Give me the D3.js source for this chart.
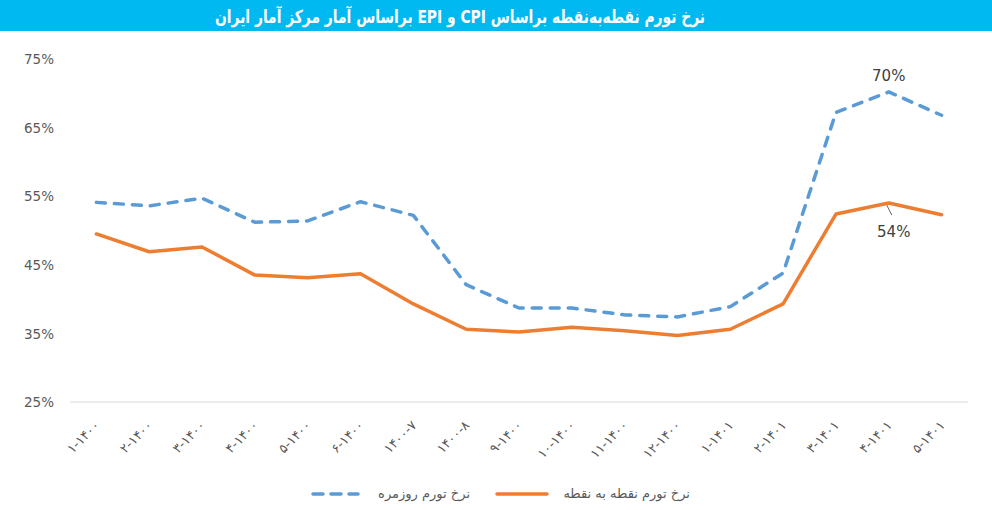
<!DOCTYPE html>
<html>
<head>
<meta charset="utf-8">
<script src="https://cdn.jsdelivr.net/npm/d3@7"></script>
<style>
  html, body { margin: 0; padding: 0; background: #ffffff; }
  svg { display: block; }
</style>
</head>
<body>
<svg id="chart" width="992" height="510"></svg>
<script>
const titleText = "نرخ تورم نقطه‌به‌نقطه براساس CPI و EPI براساس آمار مرکز آمار ایران";
const categories = ["۱-۱۴۰۰","۲-۱۴۰۰","۳-۱۴۰۰","۴-۱۴۰۰","۵-۱۴۰۰","۶-۱۴۰۰","۱۴۰۰-۷","۱۴۰۰-۸","۹-۱۴۰۰","۱۰-۱۴۰۰","۱۱-۱۴۰۰","۱۲-۱۴۰۰","۱-۱۴۰۱","۲-۱۴۰۱","۳-۱۴۰۱","۴-۱۴۰۱","۵-۱۴۰۱"];
const dailyName = "نرخ تورم روزمره";
const dailyValues = [54.1, 53.6, 54.7, 51.2, 51.4, 54.2, 52.2, 42.1, 38.7, 38.7, 37.7, 37.4, 38.9, 43.8, 67.2, 70.2, 66.8];
const pointName = "نرخ تورم نقطه به نقطه";
const pointValues = [49.5, 46.9, 47.6, 43.5, 43.1, 43.7, 39.3, 35.6, 35.2, 35.9, 35.4, 34.7, 35.6, 39.3, 52.4, 54.0, 52.3];
const yTicks = [25, 35, 45, 55, 65, 75];
const annotations = [
  { series: "daily", index: 15, label: "70%" },
  { series: "point", index: 15, label: "54%" }
];

const svg = d3.select("#chart");
const W = 992, H = 510;

// title bar
svg.append("rect").attr("x", 0).attr("y", 0).attr("width", W).attr("height", 31).attr("fill", "#00B9F1");
svg.append("text")
  .attr("x", 460).attr("y", 23)
  .attr("text-anchor", "middle")
  .attr("direction", "rtl")
  .attr("fill", "#ffffff")
  .attr("font-family", "DejaVu Sans, sans-serif")
  .attr("font-weight", "bold")
  .attr("font-size", 18)
  .attr("textLength", 490)
  .attr("lengthAdjust", "spacingAndGlyphs")
  .text(titleText);

const x = d3.scaleBand().domain(d3.range(categories.length)).range([70, 968]).padding(0);
const cx = i => x(i) + x.bandwidth() / 2;
const y = d3.scaleLinear().domain([25, 75]).range([402, 59]);

// y axis labels
const yAxis = d3.axisLeft(y).tickValues(yTicks).tickFormat(d => d + "%").tickSize(0).tickPadding(0);
const yg = svg.append("g").attr("transform", "translate(54,0)").call(yAxis);
yg.select(".domain").remove();
yg.selectAll("text")
  .attr("fill", "#595959")
  .attr("font-family", "DejaVu Sans, sans-serif")
  .attr("font-size", 13.5)
  .attr("dy", "0.35em");

// baseline
svg.append("line")
  .attr("x1", 70).attr("x2", 968)
  .attr("y1", y(25)).attr("y2", y(25))
  .attr("stroke", "#d9d9d9").attr("stroke-width", 1.2);

// x labels
const xg = svg.append("g");
xg.selectAll("text").data(categories).enter().append("text")
  .attr("transform", (d, i) => `translate(${cx(i) + 4},${y(25) + 24}) rotate(-45)`)
  .attr("text-anchor", "end")
  .attr("fill", "#595959")
  .attr("font-family", "DejaVu Sans, sans-serif")
  .attr("font-size", 13)
  .attr("letter-spacing", 2.5)
  .text(d => d);

const line = d3.line().x((d, i) => cx(i)).y(d => y(d));

svg.append("path")
  .datum(pointValues)
  .attr("d", line)
  .attr("fill", "none")
  .attr("stroke", "#ED7D31")
  .attr("stroke-width", 3.5)
  .attr("stroke-linejoin", "round")
  .attr("stroke-linecap", "round");

svg.append("path")
  .datum(dailyValues)
  .attr("d", line)
  .attr("fill", "none")
  .attr("stroke", "#5B9BD5")
  .attr("stroke-width", 3.5)
  .attr("stroke-dasharray", "9,9")
  .attr("stroke-linejoin", "round")
  .attr("stroke-linecap", "round");

// annotations
const a1 = annotations[0], a2 = annotations[1];
svg.append("text")
  .attr("x", cx(a1.index)).attr("y", y(dailyValues[a1.index]) - 11)
  .attr("text-anchor", "middle")
  .attr("fill", "#404040")
  .attr("font-family", "DejaVu Sans, sans-serif")
  .attr("font-size", 15)
  .text(a1.label);
svg.append("line")
  .attr("x1", cx(a2.index) - 2).attr("y1", y(pointValues[a2.index]) + 2)
  .attr("x2", cx(a2.index) + 3).attr("y2", y(pointValues[a2.index]) + 12)
  .attr("stroke", "#404040").attr("stroke-width", 0.8);
svg.append("text")
  .attr("x", cx(a2.index) + 5).attr("y", y(pointValues[a2.index]) + 34)
  .attr("text-anchor", "middle")
  .attr("fill", "#404040")
  .attr("font-family", "DejaVu Sans, sans-serif")
  .attr("font-size", 15)
  .text(a2.label);

// legend
const ly = 494;
const leg = svg.append("g");
leg.append("line").attr("x1", 313).attr("x2", 358).attr("y1", ly).attr("y2", ly)
  .attr("stroke", "#5B9BD5").attr("stroke-width", 3.5)
  .attr("stroke-dasharray", "10,8").attr("stroke-linecap", "round");
leg.append("text").attr("x", 470).attr("y", ly + 4)
  .attr("text-anchor", "start").attr("direction", "rtl")
  .attr("fill", "#595959").attr("font-family", "DejaVu Sans, sans-serif").attr("font-size", 13)
  .text(dailyName);
leg.append("line").attr("x1", 497).attr("x2", 547).attr("y1", ly).attr("y2", ly)
  .attr("stroke", "#ED7D31").attr("stroke-width", 3.5).attr("stroke-linecap", "round");
leg.append("text").attr("x", 690).attr("y", ly + 4)
  .attr("text-anchor", "start").attr("direction", "rtl")
  .attr("fill", "#595959").attr("font-family", "DejaVu Sans, sans-serif").attr("font-size", 13)
  .text(pointName);
</script>
</body>
</html>
